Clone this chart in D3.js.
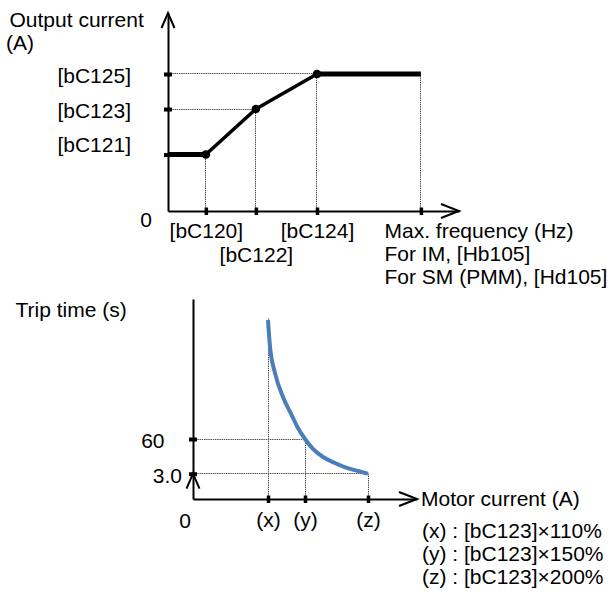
<!DOCTYPE html>
<html>
<head>
<meta charset="utf-8">
<script src="https://cdn.jsdelivr.net/npm/d3@7"></script>
<style>
  html, body { margin: 0; padding: 0; background: #fff; }
  svg text { font-family: "Liberation Sans", Arial, sans-serif; font-size: 21px; fill: #000; }
</style>
</head>
<body>
<svg id="chart" width="613" height="605"></svg>
<script>
// ---- Output current limit vs. output frequency (schematic units) ----
const freqKeys = ["[bC120]", "[bC122]", "[bC124]"];
const freqValues = [13, 30.2, 51.2];
const maxFreq = 86.9;
const currentKeys = ["[bC121]", "[bC123]", "[bC125]"];
const currentValues = [28.5, 51.5, 69.2];
const profileFreq = [0, 13, 30.2, 51.2, 86.9];
const profileCurrent = [28.5, 28.5, 51.5, 69.2, 69.2];
const maxFreqLines = ["Max. frequency (Hz)", "For IM, [Hb105]", "For SM (PMM), [Hd105]"];

// ---- Electronic thermal trip time vs. motor current ----
const motorKeys = ["(x)", "(y)", "(z)"];
const motorPercent = [110, 150, 200];
const tripTickLabels = ["3.0", "60"];
const tripTickValues = [3, 60];
const curvePercent = [110, 112.2, 117.6, 126.2, 135.6, 142.4, 150, 156.3, 164.3, 173.8, 183.3, 192.1, 200];
const curveSeconds = [264, 217.7, 173, 132, 101, 78.9, 60, 43.6, 30.4, 20.6, 12.4, 7.4, 3];
const notes = ["(x) : [bC123]×110%", "(y) : [bC123]×150%", "(z) : [bC123]×200%"];

const svg = d3.select("#chart");
const DOT = "#4a4a4a";
const px = v => Math.round(v - 0.5) + 0.5;   // snap hairlines to pixel centres

function arrowUp(g, x, y) {
  g.append("path").attr("d", `M${x - 6.5},${y + 15}L${x},${y}L${x + 6.5},${y + 15}`)
    .attr("fill", "none").attr("stroke", "#000").attr("stroke-width", 2);
}
function arrowRight(g, x, y) {
  g.append("path").attr("d", `M${x - 18},${y - 7}L${x},${y}L${x - 18},${y + 7}`)
    .attr("fill", "none").attr("stroke", "#000").attr("stroke-width", 2);
}
function styleAxis(g) {
  g.attr("font-size", null).attr("font-family", null);
  g.select(".domain").attr("stroke", "#000").attr("stroke-width", 2);
}
function guide(g, xa, ya, xb, yb) {
  g.append("line")
    .attr("x1", xa === xb ? px(xa) : xa).attr("x2", xa === xb ? px(xb) : xb)
    .attr("y1", ya === yb ? px(ya) : ya).attr("y2", ya === yb ? px(yb) : yb);
}

// ================= Upper chart =================
const x1 = d3.scaleLinear().domain([0, 100]).range([168, 459]);
const y1 = d3.scaleLinear().domain([0, 100]).range([211, 13]);
const upper = svg.append("g");

const pts = profileFreq.map((f, i) => [f, profileCurrent[i]]);

// dotted guides
const guides1 = upper.append("g").attr("stroke", DOT).attr("stroke-width", 1).attr("stroke-dasharray", "1.4,0.8");
pts.slice(1).forEach(([f, c]) => guide(guides1, x1(f), y1(0), x1(f), y1(c)));
currentValues.forEach(c => {
  const p = pts.find(d => d[1] === c);
  guide(guides1, x1(0), y1(c), x1(p[0]), y1(c));
});

// axes
const xAxis1 = d3.axisBottom(x1).tickValues(freqValues.concat([maxFreq]))
  .tickSizeInner(0).tickSizeOuter(0).tickPadding(0)
  .tickFormat((d, i) => i < freqKeys.length ? freqKeys[i] : "");
const gx1 = upper.append("g").attr("transform", `translate(0,${y1(0)})`).call(xAxis1);
styleAxis(gx1);
gx1.selectAll(".tick line").attr("y1", -3.5).attr("y2", 4).attr("stroke", "#000").attr("stroke-width", 3.5);
gx1.selectAll(".tick text").attr("dy", null).attr("y", (d, i) => i % 2 === 1 ? 51 : 27);

const yAxis1 = d3.axisLeft(y1).tickValues(currentValues)
  .tickSizeInner(0).tickSizeOuter(0).tickPadding(0)
  .tickFormat((d, i) => currentKeys[i]);
const gy1 = upper.append("g").attr("transform", `translate(${x1(0)},0)`).call(yAxis1);
styleAxis(gy1);
gy1.selectAll(".tick line").attr("x1", -4).attr("x2", 4).attr("stroke", "#000").attr("stroke-width", 4);
// the label that sits on the flat starting segment is lifted clear of it
gy1.selectAll(".tick text").attr("x", -37).attr("dy", d => d === profileCurrent[0] ? -3 : 8.5);

arrowUp(upper, x1(0), y1.range()[1]);
arrowRight(upper, x1.range()[1], y1(0));

// limit profile
for (let i = 0; i < pts.length - 1; i++) {
  const a = pts[i], b = pts[i + 1];
  upper.append("line")
    .attr("x1", x1(a[0])).attr("y1", y1(a[1])).attr("x2", x1(b[0])).attr("y2", y1(b[1]))
    .attr("stroke", "#000").attr("stroke-width", a[1] === b[1] ? 5 : 3.5);
}
upper.selectAll("circle.pt").data(pts.slice(1, 4)).join("circle")
  .attr("cx", d => x1(d[0])).attr("cy", d => y1(d[1])).attr("r", 4.3).attr("fill", "#000");

upper.append("text").attr("x", x1(0) - 22).attr("y", 227).attr("text-anchor", "middle").text("0");
upper.append("text").attr("x", 9.5).attr("y", 27).text("Output current");
upper.append("text").attr("x", 6).attr("y", 50).text("(A)");
upper.selectAll("text.maxf").data(maxFreqLines).join("text")
  .attr("x", 384.5).attr("y", (d, i) => 238 + i * 23).text(d => d);

// ================= Lower chart =================
const x2 = d3.scaleLinear().domain([0, 110, 150, 200, 239]).range([193, 268, 305, 368, 417]);
const y2 = d3.scaleLinear().domain([0, 3, 60, 300]).range([499, 473.7, 439, 299]);
const lower = svg.append("g");

const guides2 = lower.append("g").attr("stroke", DOT).attr("stroke-width", 1).attr("stroke-dasharray", "1.4,0.8");
motorPercent.forEach((p, i) => {
  const s = curveSeconds[curvePercent.indexOf(p)];
  guide(guides2, x2(p), y2(0), x2(p), y2(s) - (i === 0 ? 2 : 0));
});
tripTickValues.forEach(s => {
  const p = curvePercent[curveSeconds.indexOf(s)];
  guide(guides2, x2(0), y2(s), x2(p), y2(s));
});

const xAxis2 = d3.axisBottom(x2).tickValues(motorPercent)
  .tickSizeInner(0).tickSizeOuter(0).tickPadding(0)
  .tickFormat((d, i) => motorKeys[i]);
const gx2 = lower.append("g").attr("transform", `translate(0,${y2(0)})`).call(xAxis2);
styleAxis(gx2);
gx2.selectAll(".tick line").attr("y1", -3.5).attr("y2", 4).attr("stroke", "#000").attr("stroke-width", 3.5);
gx2.selectAll(".tick text").attr("dy", null).attr("y", 28);

const yAxis2 = d3.axisLeft(y2).tickValues(tripTickValues)
  .tickSizeInner(0).tickSizeOuter(0).tickPadding(0)
  .tickFormat((d, i) => tripTickLabels[i]);
const gy2 = lower.append("g").attr("transform", `translate(${x2(0)},0)`).call(yAxis2);
styleAxis(gy2);
gy2.selectAll(".tick line").attr("x1", -4).attr("x2", 4).attr("stroke", "#000").attr("stroke-width", 4);
gy2.selectAll(".tick text").attr("x", d => d === 60 ? -28.5 : -11).attr("dy", 8.5);

arrowUp(lower, x2(0), y2.range()[1]);
arrowRight(lower, x2.range()[4], y2(0));

const curve = d3.line().x(d => x2(d[0])).y(d => y2(d[1])).curve(d3.curveMonotoneX);
lower.append("path")
  .attr("d", curve(curvePercent.map((p, i) => [p, curveSeconds[i]])))
  .attr("fill", "none").attr("stroke", "#4a7ebb").attr("stroke-width", 4);

lower.append("text").attr("x", x2(0) - 8).attr("y", 528).attr("text-anchor", "middle").text("0");
lower.append("text").attr("x", 15.5).attr("y", 317).text("Trip time (s)");
lower.append("text").attr("x", 421).attr("y", 506).text("Motor current (A)");
lower.selectAll("text.note").data(notes).join("text")
  .attr("x", 422).attr("y", (d, i) => 538 + i * 23).text(d => d);
</script>
</body>
</html>
